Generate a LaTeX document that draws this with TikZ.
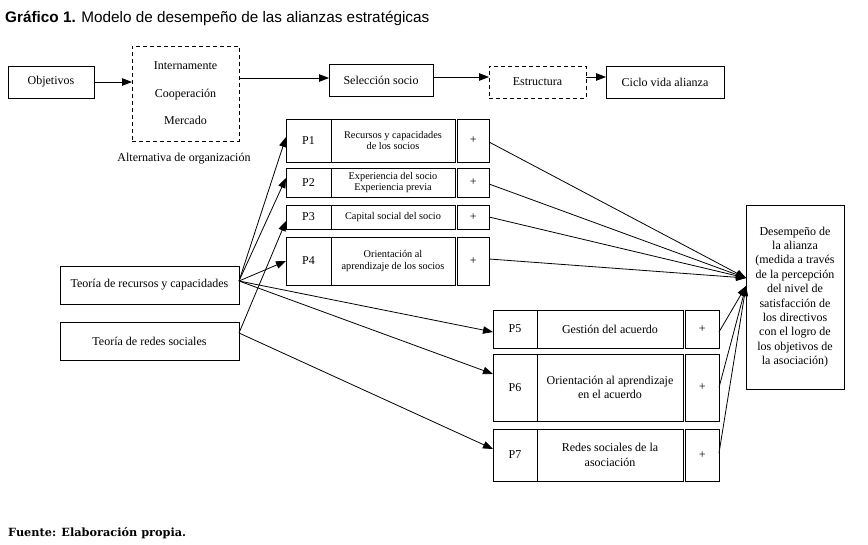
\documentclass[tikz,border=0pt]{standalone}
\usepackage{fontspec}
\setmainfont{Liberation Serif}
\newfontfamily\titlefont{Liberation Sans}
\newfontfamily\fuentefont{DejaVu Serif}
\usetikzlibrary{arrows.meta,calc}
\begin{document}
\begin{tikzpicture}[x=1pt,y=-1pt,
  box/.style={draw,line width=0.8pt,inner sep=0pt,outer sep=0pt,align=center,
    font=\fontsize{12}{14.4}\selectfont},
  dbox/.style={box,dashed,dash pattern=on 4pt off 3pt},
  small/.style={font=\fontsize{10.3}{11.5}\selectfont},
  mid/.style={font=\fontsize{12}{14.5}\selectfont},
  conn/.style={line width=0.8pt,-{Triangle[length=10pt,width=7.5pt]}},
  lbl/.style={inner sep=0pt,font=\fontsize{12}{14.4}\selectfont}]
\useasboundingbox[fill=white] (0,0) rectangle (868,545);
% title
\node[anchor=west,inner sep=0pt,font=\titlefont\fontsize{15.3}{17}\selectfont] (title) at (5,18)
  {\textbf{Gráfico 1.} Modelo de desempeño de las alianzas estratégicas};
% top row
\node[box,minimum width=86pt,minimum height=32pt] (obj) at (51,82) {Objetivos};
\node[dbox,minimum width=107pt,minimum height=95pt,font=\fontsize{12}{27.5}\selectfont] (alt) at (185.5,93.5)
  {Internamente\\Cooperación\\Mercado};
\node[lbl] (altl) at (184,159) {Alternativa de organización};
\node[box,minimum width=104pt,minimum height=32pt] (sel) at (381,80) {Selección socio};
\node[dbox,minimum width=97pt,minimum height=32pt] (est) at (537.5,82) {Estructura};
\node[box,minimum width=118pt,minimum height=32pt] (cic) at (665,82) {Ciclo vida alianza};
\draw[conn] (obj.east) -- (obj.east -| alt.west);
\draw[conn] ([yshift=2pt]alt.east |- sel.west) -- ([yshift=2pt]sel.west);
\draw[conn] ([yshift=3pt]sel.east) -- ([yshift=3pt]sel.east -| est.west);
\draw[conn] ([yshift=5pt]est.east) -- ([yshift=5pt]est.east -| cic.west);
% P1-P4
\node[box,minimum width=45pt,minimum height=43pt] (pl1) at (308.5,140.5) {P1};
\node[box,small,minimum width=124pt,minimum height=43pt] (pm1) at (393,140.5) {Recursos y capacidades\\de los socios};
\node[box,minimum width=31.5pt,minimum height=43pt] (pp1) at (473.25,140.5) {+};
\node[box,minimum width=45pt,minimum height=29pt] (pl2) at (308.5,182.5) {P2};
\node[box,small,minimum width=124pt,minimum height=29pt] (pm2) at (393,182.5) {Experiencia del socio\\Experiencia previa};
\node[box,minimum width=31.5pt,minimum height=29pt] (pp2) at (473.25,182.5) {+};
\node[box,minimum width=45pt,minimum height=24pt] (pl3) at (308.5,217) {P3};
\node[box,small,minimum width=124pt,minimum height=24pt] (pm3) at (393,217) {Capital social del socio};
\node[box,minimum width=31.5pt,minimum height=24pt] (pp3) at (473.25,217) {+};
\node[box,minimum width=45pt,minimum height=48pt] (pl4) at (308.5,261) {P4};
\node[box,small,minimum width=124pt,minimum height=48pt] (pm4) at (393,261) {Orientación al\\aprendizaje de los socios};
\node[box,minimum width=31.5pt,minimum height=48pt] (pp4) at (473.25,261) {+};
% P5-P7
\node[box,minimum width=44pt,minimum height=38pt] (pl5) at (515,329) {P5};
\node[box,mid,minimum width=146pt,minimum height=38pt] (pm5) at (610,329) {Gestión del acuerdo};
\node[box,minimum width=33.5pt,minimum height=38pt] (pp5) at (702.25,329) {+};
\node[box,minimum width=44pt,minimum height=67pt] (pl6) at (515,387.5) {P6};
\node[box,mid,minimum width=146pt,minimum height=67pt] (pm6) at (610,387.5) {Orientación al aprendizaje\\en el acuerdo};
\node[box,minimum width=33.5pt,minimum height=67pt] (pp6) at (702.25,387.5) {+};
\node[box,minimum width=44pt,minimum height=52pt] (pl7) at (515,455) {P7};
\node[box,mid,minimum width=146pt,minimum height=52pt] (pm7) at (610,455) {Redes sociales de la\\asociación};
\node[box,minimum width=33.5pt,minimum height=52pt] (pp7) at (702.25,455) {+};
% theory boxes
\node[box,minimum width=179pt,minimum height=38pt] (rec) at (149.5,285) {Teoría de recursos y capacidades};
\node[box,minimum width=179pt,minimum height=38pt] (red) at (149.5,341) {Teoría de redes sociales};
% outcome
\node[box,minimum width=98pt,minimum height=184pt] (des) at (795,297)
  {Desempeño de\\la alianza\\(medida a través\\de la percepción\\del nivel de\\satisfacción de\\los directivos\\con el logro de\\los objetivos de\\la asociación)};
% connectors from theories
\draw[conn] ([yshift=4pt]rec.east) -- ([yshift=3.5pt]pl1.west);
\draw[conn] ([yshift=4pt]rec.east) -- ([yshift=4.5pt]pl2.west);
\draw[conn] ([yshift=8pt]red.east) -- ([yshift=-4pt]pl3.west);
\draw[conn] ([yshift=4pt]rec.east) -- (pl4.west);
\draw[conn] ([yshift=4pt]rec.east) -- ([yshift=-3pt]pl5.west);
\draw[conn] ([yshift=4pt]rec.east) -- ([yshift=13.5pt]pl6.west);
\draw[conn] ([yshift=8pt]red.east) -- ([yshift=6pt]pl7.west);
% connectors to outcome
\draw[conn] ([yshift=-1.5pt]pp1.east) -- ([yshift=19pt]des.west);
\draw[conn] ([yshift=-1.5pt]pp2.east) -- ([yshift=19pt]des.west);
\draw[conn] (pp3.east) -- ([yshift=19pt]des.west);
\draw[conn] ([yshift=2pt]pp4.east) -- ([yshift=19pt]des.west);
\draw[conn] ([yshift=-3pt]pp5.east) -- ([yshift=11pt]des.west);
\draw[conn] (pp6.east) -- ([yshift=11pt]des.west);
\draw[conn] ([yshift=2pt]pp7.east) -- ([yshift=11pt]des.west);
% source
\node[anchor=west,inner sep=0pt,font=\fuentefont\bfseries\fontsize{11.3}{13}\selectfont] (src) at (8,533)
  {Fuente: Elaboración propia.};
\end{tikzpicture}
\end{document}
